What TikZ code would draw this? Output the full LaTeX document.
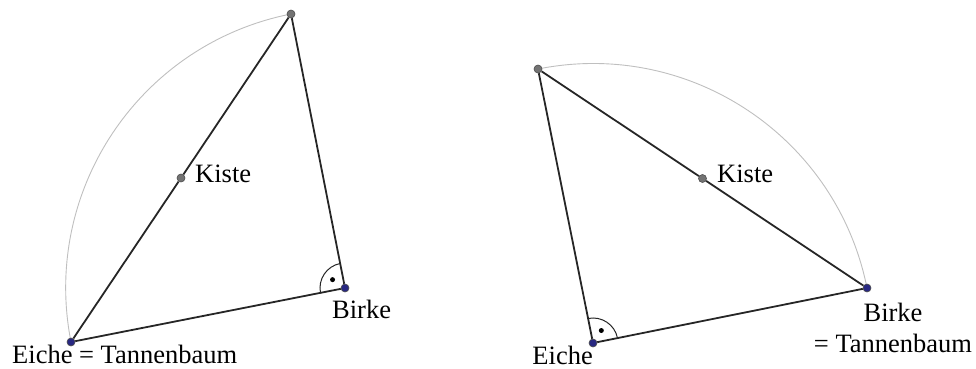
\documentclass[tikz,border=0pt]{standalone}
\usepackage{fontspec}
\setmainfont{Liberation Serif}
\usetikzlibrary{backgrounds}
\definecolor{pointblue}{RGB}{40,40,130}
\begin{document}
\begin{tikzpicture}[x=1pt, y=1pt,
  side/.style={draw=black!85, line width=1.8pt},
  thales/.style={draw=black!25, line width=0.9pt},
  rightmark/.style={draw=black!85, line width=1pt},
  bluept/.style={circle, draw=black!70, fill=pointblue, inner sep=0pt, minimum size=8pt, line width=0.6pt},
  graypt/.style={circle, draw=black!70, fill=black!55, inner sep=0pt, minimum size=8pt, line width=0.6pt},
  lbl/.style={inner sep=0pt, font=\fontsize{26.5}{31}\selectfont}]
\useasboundingbox (0,0) rectangle (976,368);
\node[bluept] (E1) at (71,26) {};
\node[bluept] (B1) at (345,80) {};
\node[graypt] (T1) at (291,354) {};
\node[graypt] (K1) at (181,190) {};
\node[bluept] (E2) at (593,25) {};
\node[bluept] (B2) at (867,80) {};
\node[graypt] (T2) at (538,299) {};
\node[graypt] (K2) at (702.5,189.5) {};
\begin{scope}[on background layer]
\draw[thales] (E1.center) arc[start angle=191.15, end angle=101.15, radius=279.27];
\draw[side] (E1) -- (B1);
\draw[side] (B1) -- (T1);
\draw[side] (T1) -- (K1);
\draw[side] (K1) -- (E1);
\draw[rightmark] (B1.center) ++(191.15:25) arc[start angle=191.15, end angle=101.15, radius=25];
\fill (B1.center) ++(146.15:15) circle (2.5);
\draw[thales] (B2.center) arc[start angle=11.35, end angle=101.35, radius=279.47];
\draw[side] (E2) -- (B2);
\draw[side] (B2) -- (K2);
\draw[side] (K2) -- (T2);
\draw[side] (T2) -- (E2);
\draw[rightmark] (E2.center) ++(11.35:25) arc[start angle=11.35, end angle=101.35, radius=25];
\fill (E2.center) ++(56.35:15) circle (2.5);
\end{scope}
\node[lbl, anchor=base west] (kiste1) at (195,186) {Kiste};
\node[lbl, anchor=base west] (birke1) at (332,50) {Birke};
\node[lbl, anchor=base west] (eiche1) at (12,5) {Eiche = Tannenbaum};
\node[lbl, anchor=base west] (kiste2) at (717,186) {Kiste};
\node[lbl, anchor=base east] (eiche2) at (593,4) {Eiche};
\node[lbl, align=center, anchor=south] (birke2) at (893,15) {Birke\\= Tannenbaum};
\end{tikzpicture}
\end{document}
